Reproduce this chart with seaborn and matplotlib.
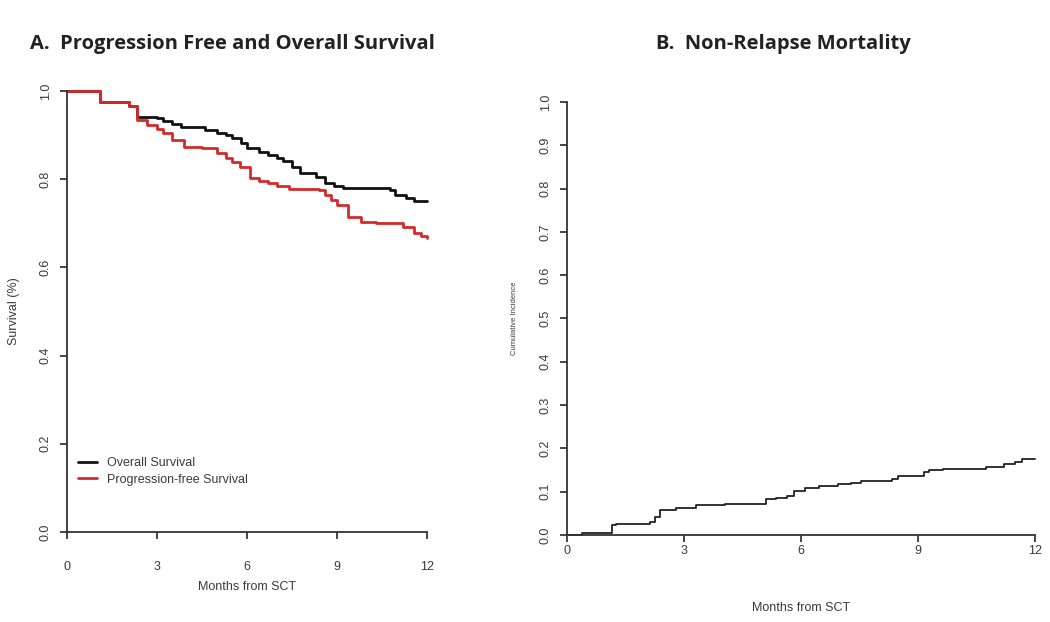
import pandas as pd
import matplotlib.pyplot as plt
import seaborn as sns

# Overall survival (Kaplan-Meier steps)
os_months = [0, 1.1, 2.05, 2.33, 3.0, 3.2, 3.5, 3.8, 4.6, 5.0, 5.3, 5.5, 5.8, 6.0, 6.4, 6.7, 7.0, 7.2, 7.5, 7.76, 8.3, 8.6, 8.9, 9.2, 10.76, 10.93, 11.3, 11.55, 12]
os_surv = [1.0, 0.976, 0.965, 0.942, 0.938, 0.933, 0.926, 0.919, 0.912, 0.905, 0.900, 0.893, 0.882, 0.871, 0.862, 0.855, 0.849, 0.842, 0.828, 0.814, 0.806, 0.792, 0.785, 0.78, 0.776, 0.765, 0.758, 0.75, 0.75]

# Progression-free survival
pfs_months = [0, 1.1, 2.05, 2.33, 2.67, 3.0, 3.2, 3.5, 3.9, 4.5, 5.0, 5.3, 5.5, 5.77, 6.1, 6.4, 6.7, 7.0, 7.4, 8.4, 8.6, 8.8, 9.0, 9.35, 9.8, 10.3, 11.2, 11.55, 11.8, 12]
pfs_surv = [1.0, 0.976, 0.965, 0.934, 0.923, 0.913, 0.905, 0.889, 0.874, 0.87, 0.859, 0.848, 0.838, 0.828, 0.803, 0.797, 0.791, 0.784, 0.778, 0.776, 0.765, 0.752, 0.742, 0.715, 0.704, 0.70, 0.692, 0.678, 0.672, 0.666]

# Non-relapse mortality cumulative incidence
nrm_months = [0, 0.38, 1.16, 1.25, 2.12, 2.25, 2.39, 2.8, 3.3, 4.04, 5.09, 5.36, 5.63, 5.82, 6.1, 6.46, 6.96, 7.28, 7.55, 8.33, 8.5, 9.15, 9.29, 9.65, 10.75, 11.2, 11.48, 11.66, 12]
nrm_cuminc = [0.0, 0.005, 0.022, 0.026, 0.030, 0.042, 0.058, 0.063, 0.068, 0.072, 0.082, 0.086, 0.091, 0.102, 0.108, 0.112, 0.117, 0.121, 0.124, 0.129, 0.135, 0.145, 0.151, 0.153, 0.157, 0.163, 0.169, 0.175, 0.175]

x_ticks = [0, 3, 6, 9, 12]
left_y_ticks = [0.0, 0.2, 0.4, 0.6, 0.8, 1.0]
right_y_ticks = [i / 10 for i in range(11)]

surv = pd.concat([
    pd.DataFrame({'Months': os_months, 'Value': os_surv, 'Curve': 'Overall Survival'}),
    pd.DataFrame({'Months': pfs_months, 'Value': pfs_surv, 'Curve': 'Progression-free Survival'}),
])
nrm = pd.DataFrame({'Months': nrm_months, 'Value': nrm_cuminc})

sns.set_style('ticks')
plt.rcParams['font.family'] = ['Liberation Sans', 'DejaVu Sans']
text_grey = '#3a3a3a'

fig = plt.figure(figsize=(10.5, 6.22), dpi=100)
ax1 = fig.add_axes([0.0638, 0.1447, 0.343, 0.709])
ax2 = fig.add_axes([0.540, 0.140, 0.4457, 0.696])

# Panel A
sns.lineplot(data=surv, x='Months', y='Value', hue='Curve', ax=ax1, estimator=None,
             palette={'Overall Survival': '#111111', 'Progression-free Survival': '#d42a2a'},
             drawstyle='steps-post', linewidth=2.0, clip_on=False)
handles, labels = ax1.get_legend_handles_labels()
ax1.legend(handles, labels, loc='upper left', bbox_to_anchor=(0.0, 0.195), frameon=False,
           fontsize=9, handlelength=1.5, handletextpad=0.8, labelspacing=0.35,
           labelcolor=text_grey)
ax1.set_ylabel('Survival (%)', fontsize=9, color=text_grey, labelpad=14)

# Panel B
sns.lineplot(data=nrm, x='Months', y='Value', ax=ax2, estimator=None, color='#222222',
             drawstyle='steps-post', linewidth=1.3, clip_on=False)
ax2.set_ylabel('Cumulative Incidence', fontsize=5.5, color=text_grey, labelpad=16)

for ax, yt, xpad in [(ax1, left_y_ticks, 16), (ax2, right_y_ticks, 2)]:
    ax.set_xlim(0, 12)
    ax.set_ylim(0, 1)
    ax.set_xticks(x_ticks)
    ax.set_yticks(yt)
    ax.set_yticklabels([f'{v:.1f}' for v in yt], rotation=90, va='center')
    ax.tick_params(axis='x', length=5, width=1.2, pad=xpad, labelsize=9, labelcolor=text_grey)
    ax.tick_params(axis='y', length=5, width=1.2, pad=6, labelsize=9, labelcolor=text_grey)
    ax.set_xlabel('Months from SCT', fontsize=9, color=text_grey)
    for s in ['left', 'bottom']:
        ax.spines[s].set_linewidth(1.3)
        ax.spines[s].set_color('#333333')
    sns.despine(ax=ax)

ax1.xaxis.labelpad = 6
ax2.xaxis.labelpad = 33

fig.text(0.029, 0.93, 'A.  Progression Free and Overall Survival', fontsize=14.5,
         fontweight='bold', family=['Open Sans', 'DejaVu Sans'], color='#222222', va='center')
fig.text(0.746, 0.93, 'B.  Non-Relapse Mortality', fontsize=14.5,
         fontweight='bold', family=['Open Sans', 'DejaVu Sans'], color='#222222', va='center', ha='center')

fig.savefig('out.png', dpi=100)
